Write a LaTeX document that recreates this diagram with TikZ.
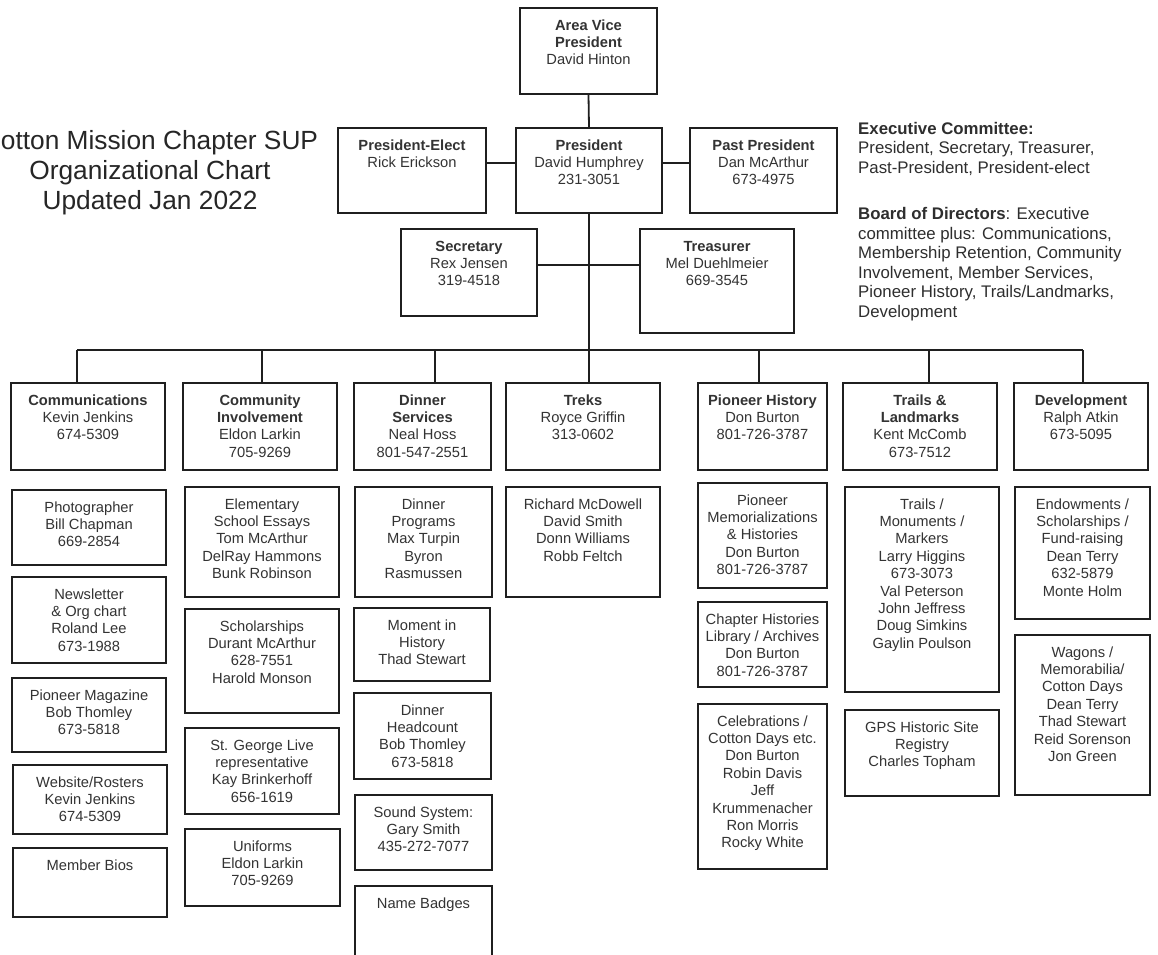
\documentclass[tikz,border=0pt]{standalone}
\usepackage{fontspec}
\setmainfont{Liberation Sans}
\newcommand\obpad{10pt}
\newcommand\obx[6]{%
  \pgfmathsetmacro\obw{#4-#2}\pgfmathsetmacro\obh{#5-#3}%
  \node[obox] (#1) at ({(#2+#4)/2},{(#3+#5)/2})
    {\parbox[c][\obh pt][t]{\obw pt}{\centering\vspace*{\obpad}\strut #6}};}
\begin{document}
\begin{tikzpicture}[x=1pt,y=-1pt,
  obox/.style={draw=black!88, line width=1.8pt, inner sep=0pt, text=black!80,
    font=\fontsize{14.7}{17.4}\selectfont},
  conn/.style={draw=black!88, line width=1.8pt},
  ttl/.style={align=center, text=black!85, font=\fontsize{26.3}{30}\selectfont, inner sep=0pt},
  note/.style={align=left, text=black!82, font=\fontsize{16.8}{19.5}\selectfont, inner sep=0pt, anchor=north west}]
\useasboundingbox (0,0) rectangle (1158,954);
\clip (0,0) rectangle (1158,954);
\fill[white] (0,0) rectangle (1158,954);

% title and notes
\node[ttl] (title) at (150,173) {Cotton Mission Chapter SUP\\Organizational Chart\\Updated Jan 2022};
\node[note] (notes) at (858,122) {\textbf{Executive Committee:}\\President, Secretary, Treasurer,\\Past-President, President-elect\\[27pt]\textbf{Board of Directors}: Executive\\committee plus: Communications,\\Membership Retention, Community\\Involvement, Member Services,\\Pioneer History, Trails/Landmarks,\\Development};

% top
\obx{avp}{520}{8}{657}{94}{\textbf{Area Vice}\\\textbf{President}\\David Hinton}
\obx{pe}{338}{128}{486}{213}{\textbf{President-Elect}\\Rick Erickson}
\obx{pres}{516}{128}{662}{213}{\textbf{President}\\David Humphrey\\231-3051}
\obx{pp}{690}{128}{837}{213}{\textbf{Past President}\\Dan McArthur\\673-4975}
\obx{sec}{401}{229}{537}{316}{\textbf{Secretary}\\Rex Jensen\\319-4518}
\obx{tre}{640}{229}{794}{333}{\textbf{Treasurer}\\Mel Duehlmeier\\669-3545}

% level 1
\obx{comm}{11}{383}{165}{470}{\textbf{Communications}\\Kevin Jenkins\\674-5309}
\obx{cinv}{183}{383}{337}{470}{\textbf{Community}\\\textbf{Involvement}\\Eldon Larkin\\705-9269}
\obx{dine}{354}{383}{491}{470}{\textbf{Dinner}\\\textbf{Services}\\Neal Hoss\\801-547-2551}
\obx{treks}{506}{383}{660}{470}{\textbf{Treks}\\Royce Griffin\\313-0602}
\obx{phist}{698}{383}{827}{470}{\textbf{Pioneer History}\\Don Burton\\801-726-3787}
\obx{trails}{843}{383}{997}{470}{\textbf{Trails \&}\\\textbf{Landmarks}\\Kent McComb\\673-7512}
\obx{devel}{1014}{383}{1148}{470}{\textbf{Development}\\Ralph Atkin\\673-5095}

% column 1
\obx{c1a}{12}{490}{166}{565}{Photographer\\Bill Chapman\\669-2854}
\obx{c1b}{12}{577}{166}{663}{Newsletter\\\& Org chart\\Roland Lee\\673-1988}
\obx{c1c}{12}{678}{166}{752}{Pioneer Magazine\\Bob Thomley\\673-5818}
\obx{c1d}{13}{765}{167}{834}{Website/Rosters\\Kevin Jenkins\\674-5309}
\obx{c1e}{13}{848}{167}{917}{Member Bios}

% column 2
\obx{c2a}{185}{487}{339}{597}{Elementary\\School Essays\\Tom McArthur\\DelRay Hammons\\Bunk Robinson}
\obx{c2b}{185}{609}{339}{713}{Scholarships\\Durant McArthur\\628-7551\\Harold Monson}
\obx{c2c}{185}{728}{339}{814}{St. George Live\\representative\\Kay Brinkerhoff\\656-1619}
\obx{c2d}{185}{829}{340}{906}{Uniforms\\Eldon Larkin\\705-9269}

% column 3
\obx{c3a}{355}{487}{492}{597}{Dinner\\Programs\\Max Turpin\\Byron\\Rasmussen}
\obx{c3b}{354}{608}{490}{681}{Moment in\\History\\Thad Stewart}
\obx{c3c}{354}{693}{491}{779}{Dinner\\Headcount\\Bob Thomley\\673-5818}
\obx{c3d}{355}{795}{492}{870}{Sound System:\\Gary Smith\\435-272-7077}
\obx{c3e}{355}{886}{492}{962}{Name Badges}

% column 4
\obx{c4a}{506}{487}{660}{597}{Richard McDowell\\David Smith\\Donn Williams\\Robb Feltch}

% column 5
\obx{c5a}{698}{483}{827}{588}{Pioneer\\Memorializations\\\& Histories\\Don Burton\\801-726-3787}
\obx{c5b}{698}{602}{827}{687}{Chapter Histories\\Library / Archives\\Don Burton\\801-726-3787}
\obx{c5c}{698}{704}{827}{869}{Celebrations /\\Cotton Days etc.\\Don Burton\\Robin Davis\\Jeff\\Krummenacher\\Ron Morris\\Rocky White}

% column 6
\obx{c6a}{845}{487}{999}{692}{Trails /\\Monuments /\\Markers\\Larry Higgins\\673-3073\\Val Peterson\\John Jeffress\\Doug Simkins\\Gaylin Poulson}
\obx{c6b}{845}{710}{999}{796}{GPS Historic Site\\Registry\\Charles Topham}

% column 7
\obx{c7a}{1015}{487}{1150}{619}{Endowments /\\Scholarships /\\Fund-raising\\Dean Terry\\632-5879\\Monte Holm}
\obx{c7b}{1015}{635}{1150}{795}{Wagons /\\Memorabilia/\\Cotton Days\\Dean Terry\\Thad Stewart\\Reid Sorenson\\Jon Green}

% connectors
\coordinate (pl) at (588,163);
\coordinate (st) at (588,265);
\draw[conn] (avp.south) -- (pres.north);
\draw[conn] (pe.east |- pl) -- (pres.west |- pl);
\draw[conn] (pres.east |- pl) -- (pp.west |- pl);
\draw[conn] (sec.east |- st) -- (tre.west |- st);
\draw[conn] (pres.south) -- (pres.south |- treks.north);
\coordinate (d1) at (77,350);
\coordinate (d2) at (262,350);
\coordinate (d3) at (435,350);
\coordinate (d5) at (759,350);
\coordinate (d6) at (929,350);
\coordinate (d7) at (1083,350);
\draw[conn] (d1) -- (d7);
\draw[conn] (d1) -- (d1 |- comm.north);
\draw[conn] (d2) -- (d2 |- cinv.north);
\draw[conn] (d3) -- (d3 |- dine.north);
\draw[conn] (d5) -- (d5 |- phist.north);
\draw[conn] (d6) -- (d6 |- trails.north);
\draw[conn] (d7) -- (d7 |- devel.north);
\end{tikzpicture}
\end{document}
